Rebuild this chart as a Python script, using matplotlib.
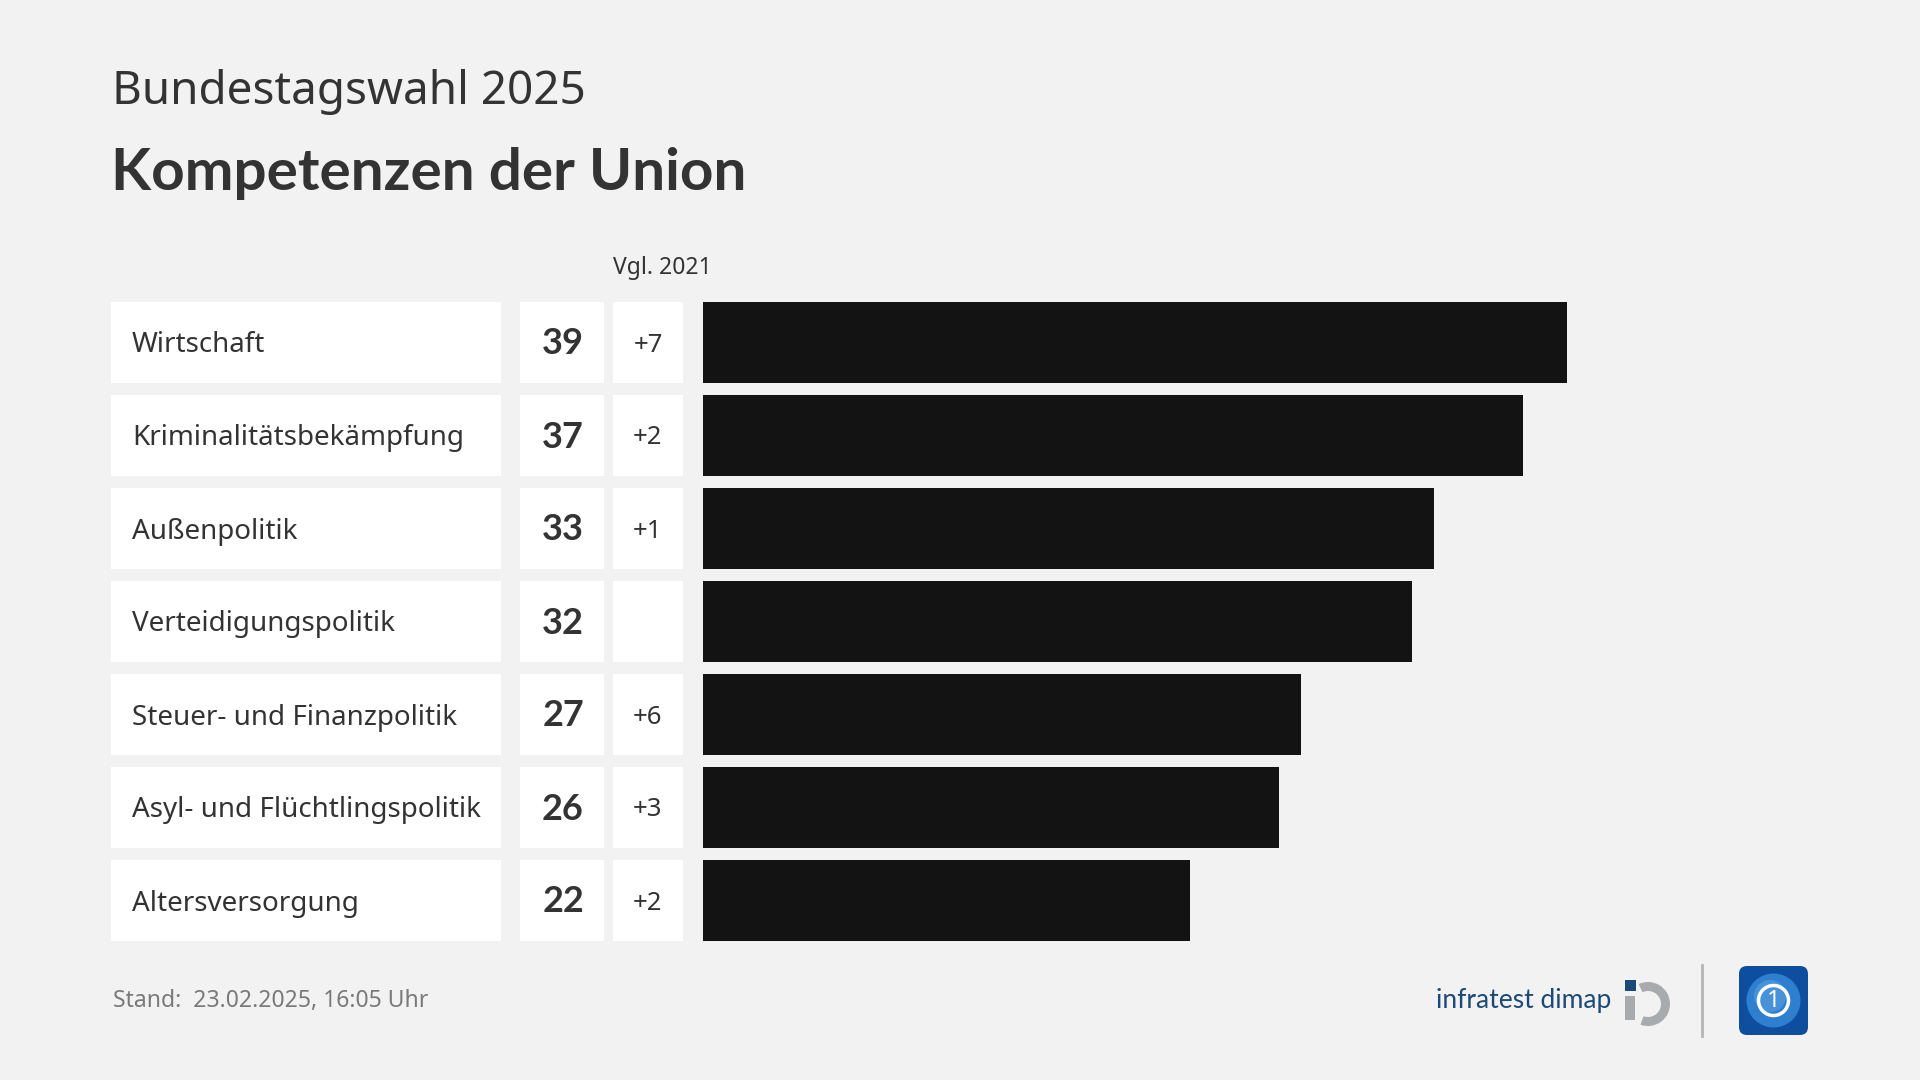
import matplotlib
matplotlib.use("Agg")
import matplotlib.pyplot as plt
from matplotlib.patches import Rectangle, FancyBboxPatch, Wedge, Circle

categories = ["Wirtschaft", "Kriminalitätsbekämpfung", "Außenpolitik",
              "Verteidigungspolitik", "Steuer- und Finanzpolitik",
              "Asyl- und Flüchtlingspolitik", "Altersversorgung"]
values = [39, 37, 33, 32, 27, 26, 22]
changes = ["+7", "+2", "+1", "", "+6", "+3", "+2"]

supertitle = "Bundestagswahl 2025"
title = "Kompetenzen der Union"
compare_label = "Vgl. 2021"
footer = "Stand:  23.02.2025, 16:05 Uhr"

NOTO = ["Noto Sans", "DejaVu Sans"]
LATO = ["Lato", "DejaVu Sans"]
plt.rcParams['font.family'] = NOTO
BG = "#f2f2f2"
TXT = "#333333"

W, H = 1920, 1080
fig = plt.figure(figsize=(19.2, 10.8), dpi=100, facecolor=BG)
ax = fig.add_axes([0, 0, 1, 1])
ax.set_xlim(0, W)
ax.set_ylim(H, 0)
ax.axis("off")
ax.set_facecolor(BG)

row0, pitch, bh = 342.5, 93, 81
bar_x0 = 703
unit = (1567 - 703) / 39.0
xmax = 50

# bar axes
top_px = row0 - pitch / 2
bot_px = row0 + pitch * (len(values) - 0.5)
bx = fig.add_axes([bar_x0 / W, 1 - bot_px / H, xmax * unit / W, (bot_px - top_px) / H])
bx.set_xlim(0, xmax)
bx.set_ylim(len(values) - 0.5, -0.5)
bx.axis("off")
bx.patch.set_alpha(0)
bx.barh(range(len(values)), values, height=bh / pitch, color="#131313")

ax.text(112, 104, supertitle, fontsize=33, color=TXT, va="baseline", ha="left")
ax.text(111, 190, title, fontsize=42, fontweight="bold", color=TXT, va="baseline",
        ha="left", family=LATO)
ax.text(613, 274, compare_label, fontsize=16.5, color=TXT, va="baseline", ha="left")

for i, (cat, v, c) in enumerate(zip(categories, values, changes)):
    yc = row0 + pitch * i
    ax.add_patch(Rectangle((111, yc - bh / 2), 390, bh, color="white", lw=0))
    ax.add_patch(Rectangle((520, yc - bh / 2), 84, bh, color="white", lw=0))
    ax.add_patch(Rectangle((613, yc - bh / 2), 70, bh, color="white", lw=0))
    ax.text(132, yc + 10, cat, fontsize=20, color=TXT, va="baseline", ha="left")
    ax.text(563, yc + 12, str(v), fontsize=26, fontweight="bold", color=TXT,
            va="baseline", ha="center", family=LATO)
    if c:
        ax.text(648, yc + 9, c, fontsize=18.5, color=TXT, va="baseline", ha="center")

ax.text(113, 1007, footer, fontsize=16.5, color="#7a7a7a", va="baseline", ha="left")

# infratest dimap logo
ax.text(1611, 1008, "infratest dimap", fontsize=19, color="#1b4a78", va="baseline",
        ha="right", family=LATO)
ax.add_patch(Wedge((1648, 1004), 22, -115, 110, width=9, color="#a7abae", lw=0))
ax.add_patch(Rectangle((1625, 996), 10, 24, color="#a7abae", lw=0))
ax.add_patch(Rectangle((1625, 980), 11, 11, color="#1b4a78", lw=0))

# separator
ax.plot([1702, 1702], [965, 1036], color="#b5b5b5", lw=2)

# ARD logo
ax.add_patch(FancyBboxPatch((1742, 969), 63, 63, boxstyle="round,pad=3,rounding_size=8",
                            color="#0d4f9e", lw=0))
ax.add_patch(Circle((1773.5, 1000.5), 27, color="#2f7fd0", lw=0))
ax.add_patch(Circle((1770, 996), 16, color="#5aa0e0", lw=0, alpha=0.6))
ax.add_patch(Circle((1773.5, 1000.5), 15, fill=False, ec="white", lw=2.5))
ax.text(1773.5, 1001, "1", fontsize=17, fontweight="bold", color="white", va="center", ha="center")

fig.savefig("out.png", dpi=100, facecolor=BG)
